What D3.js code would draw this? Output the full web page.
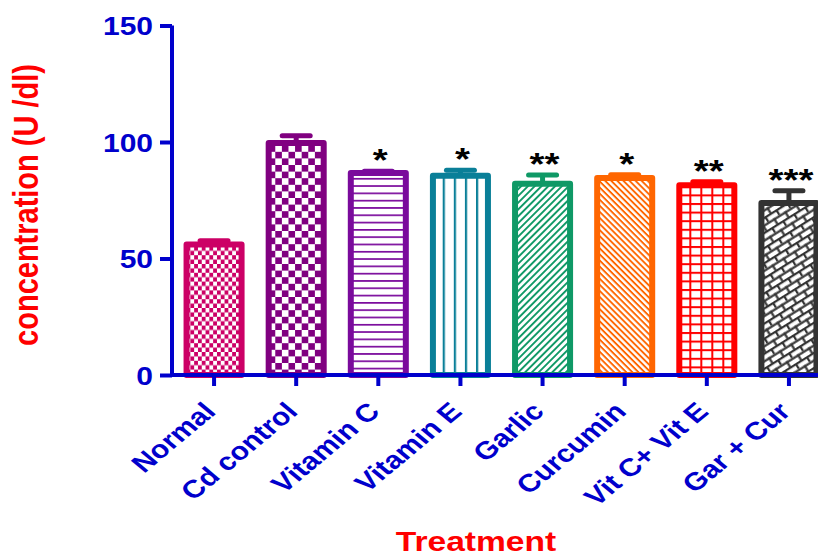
<!DOCTYPE html>
<html>
<head>
<meta charset="utf-8">
<script src="https://cdn.jsdelivr.net/npm/d3@7"></script>
<style>
  body { margin: 0; background: #fff; }
  svg { display: block; font-family: "Liberation Sans", Arial, sans-serif; font-weight: bold; }
</style>
</head>
<body>
<div id="chart"></div>
<script>
// ---- data ----
var categories = ['Normal', 'Cd control', 'Vitamin C', 'Vitamin E', 'Garlic', 'Curcumin', 'Vit C+ Vit E', 'Gar + Cur'];
var means = [56, 99.6, 86.7, 85.5, 82.1, 84.5, 81.4, 73.8];
var sem = [1.6, 3.1, 0.8, 2.4, 3.7, 1.4, 1.5, 5.3];
var stars = ['', '', '*', '*', '**', '*', '**', '***'];
var yTicks = [0, 50, 100, 150];

var colors = ['#CC0066', '#800080', '#7A0A9C', '#0A7F98', '#0F9966', '#FF6600', '#FF0000', '#333333'];
var fills = ['checkFine', 'checkBig', 'hlines', 'vlines', 'diagUp', 'diagDown', 'grid', 'brick'];

var W = 818, H = 556;
var axisColor = '#0000CC';
var stretch = 1.2; // the whole original is a bit wide

var svg = d3.select('#chart').append('svg')
	.attr('width', W)
	.attr('height', H);

var x = d3.scaleBand()
	.domain(categories)
	.range([173, 830])
	.paddingInner(0.33)
	.paddingOuter(0.165);

var y = d3.scaleLinear()
	.domain([0, 150])
	.range([375, 25.5]);

var defs = svg.append('defs');

// one pattern per bar so the stripes line up with that bar
function makePattern(i) {
	var c = colors[i];
	var kind = fills[i];
	var id = 'pat' + i;
	var left = x(categories[i]);
	var mid = left + x.bandwidth() / 2;
	var p = defs.append('pattern').attr('id', id).attr('patternUnits', 'userSpaceOnUse');

	if (kind == 'checkFine' || kind == 'checkBig') {
		var cw = kind == 'checkFine' ? 3.8 : 6.6;
		var ch = kind == 'checkFine' ? 4.4 : 6.6;
		p.attr('width', cw * 2).attr('height', ch * 2).attr('x', left).attr('y', 0);
		p.append('rect').attr('width', cw * 2).attr('height', ch * 2).attr('fill', '#fff');
		p.append('rect').attr('width', cw).attr('height', ch).attr('fill', c);
		p.append('rect').attr('x', cw).attr('y', ch).attr('width', cw).attr('height', ch).attr('fill', c);
	}
	else if (kind == 'hlines') {
		p.attr('width', 10).attr('height', 7.3).attr('y', y(0));
		p.append('rect').attr('width', 10).attr('height', 7.3).attr('fill', '#fff');
		p.append('rect').attr('width', 10).attr('height', 1.7).attr('fill', c);
	}
	else if (kind == 'vlines') {
		p.attr('width', 11.1).attr('height', 10).attr('x', mid + 5.55 - 1.1);
		p.append('rect').attr('width', 11.1).attr('height', 10).attr('fill', '#fff');
		p.append('rect').attr('width', 2.2).attr('height', 10).attr('fill', c);
	}
	else if (kind == 'diagUp' || kind == 'diagDown') {
		var gap = kind == 'diagUp' ? 4.8 : 4.3;
		p.attr('width', 10).attr('height', gap)
			.attr('patternTransform', 'rotate(' + (kind == 'diagUp' ? -45 : 45) + ')');
		p.append('rect').attr('width', 10).attr('height', gap).attr('fill', '#fff');
		p.append('rect').attr('width', 10).attr('height', 1.9).attr('fill', c);
	}
	else if (kind == 'grid') {
		p.attr('width', 11).attr('height', 8.6).attr('x', mid + 5.5 - 1).attr('y', y(0));
		p.append('rect').attr('width', 11).attr('height', 8.6).attr('fill', '#fff');
		p.append('rect').attr('width', 2).attr('height', 8.6).attr('fill', c);
		p.append('rect').attr('width', 11).attr('height', 2).attr('fill', c);
	}
	else if (kind == 'brick') {
		var bw = 13, bh = 6.4, m = 2.2;
		p.attr('width', bw).attr('height', bh * 2).attr('patternTransform', 'rotate(-32)');
		p.append('rect').attr('width', bw).attr('height', bh * 2).attr('fill', '#fff');
		p.append('rect').attr('width', bw).attr('height', m).attr('fill', c);
		p.append('rect').attr('y', bh).attr('width', bw).attr('height', m).attr('fill', c);
		p.append('rect').attr('width', m).attr('height', bh).attr('fill', c);
		p.append('rect').attr('x', bw / 2).attr('y', bh).attr('width', m).attr('height', bh).attr('fill', c);
	}
	return 'url(#' + id + ')';
}

var rows = categories.map(function (d, i) {
	return { name: d, mean: means[i], sem: sem[i], star: stars[i], color: colors[i], fill: makePattern(i) };
});

// ---- bars ----
var bars = svg.append('g').selectAll('g').data(rows).enter().append('g');

bars.append('rect')
	.attr('x', function (d) { return x(d.name); })
	.attr('y', function (d) { return y(d.mean); })
	.attr('width', x.bandwidth())
	.attr('height', function (d) { return y(0) - y(d.mean); })
	.attr('fill', function (d) { return d.fill; })
	.attr('stroke', function (d) { return d.color; })
	.attr('stroke-width', 6)
	.attr('stroke-linejoin', 'round');

// error bars, upper half only
bars.append('line')
	.attr('x1', function (d) { return x(d.name) + x.bandwidth() / 2; })
	.attr('x2', function (d) { return x(d.name) + x.bandwidth() / 2; })
	.attr('y1', function (d) { return y(d.mean); })
	.attr('y2', function (d) { return y(d.mean + d.sem); })
	.attr('stroke', function (d) { return d.color; })
	.attr('stroke-width', 5);

bars.append('line')
	.attr('x1', function (d) { return x(d.name) + x.bandwidth() / 2 - 14; })
	.attr('x2', function (d) { return x(d.name) + x.bandwidth() / 2 + 14; })
	.attr('y1', function (d) { return y(d.mean + d.sem); })
	.attr('y2', function (d) { return y(d.mean + d.sem); })
	.attr('stroke', function (d) { return d.color; })
	.attr('stroke-width', 5)
	.attr('stroke-linecap', 'round');

bars.append('text')
	.attr('transform', function (d) {
		return 'translate(' + (x(d.name) + x.bandwidth() / 2 + 2) + ',' + (y(d.mean + d.sem)) + ') scale(' + stretch + ',1)';
	})
	.attr('text-anchor', 'middle')
	.attr('font-size', 32)
	.attr('fill', '#000')
	.text(function (d) { return d.star; });

// ---- axes ----
var yAxis = svg.append('g')
	.attr('transform', 'translate(172,0)')
	.call(d3.axisLeft(y).tickValues(yTicks).tickSize(12).tickPadding(3.8).tickSizeOuter(0));

yAxis.select('.domain').attr('stroke', axisColor).attr('stroke-width', 4).attr('d', 'M0,' + y(150) + 'V' + (y(0) + 2));
yAxis.selectAll('.tick line').attr('stroke', axisColor).attr('stroke-width', 4);
yAxis.selectAll('.tick text')
	.attr('fill', axisColor)
	.attr('font-size', 25)
	.attr('font-family', '"Liberation Sans", Arial, sans-serif')
	.attr('font-weight', 'bold')
	.attr('dy', '0.36em')
	.attr('transform', 'scale(' + stretch + ',1)');

var xAxis = svg.append('g')
	.attr('transform', 'translate(0,' + y(0) + ')')
	.call(d3.axisBottom(x).tickSize(11).tickSizeOuter(0));

xAxis.select('.domain').attr('stroke', axisColor).attr('stroke-width', 4).attr('d', 'M170,0H' + W);
xAxis.selectAll('.tick line').attr('stroke', axisColor).attr('stroke-width', 4);
xAxis.selectAll('.tick text')
	.attr('fill', axisColor)
	.attr('font-size', 25)
	.attr('font-family', '"Liberation Sans", Arial, sans-serif')
	.attr('font-weight', 'bold')
	.attr('text-anchor', 'end')
	.attr('x', 0).attr('y', 0).attr('dy', 0)
	.attr('transform', 'translate(3,38) scale(' + stretch + ',1) rotate(-45)');

// ---- titles ----
svg.append('text')
	.attr('transform', 'translate(38,205) scale(' + stretch + ',1) rotate(-90)')
	.attr('text-anchor', 'middle')
	.attr('font-size', 29)
	.attr('fill', '#FF0000')
	.text('concentration (U /dl)');

svg.append('text')
	.attr('transform', 'translate(476,551) scale(' + stretch + ',1)')
	.attr('text-anchor', 'middle')
	.attr('font-size', 28)
	.attr('fill', '#FF0000')
	.text('Treatment');
</script>
</body>
</html>
